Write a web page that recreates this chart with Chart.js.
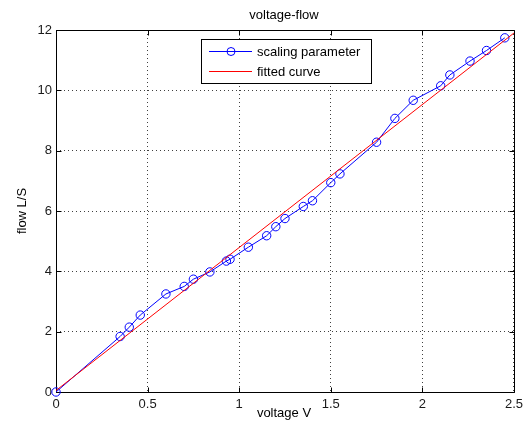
<!DOCTYPE html>
<html>
<head>
<meta charset="utf-8">
<script src="https://cdn.jsdelivr.net/npm/chart.js@4/dist/chart.umd.min.js"></script>
<style>
html,body{margin:0;padding:0;background:#fff;}
#wrap{width:528px;height:430px;}
</style>
</head>
<body>
<div id="wrap"><canvas id="c" width="528" height="430"></canvas></div>
<script>
const titleText = 'voltage-flow';
const xLabel = 'voltage V';
const yLabel = 'flow L/S';
const seriesNames = ['scaling parameter', 'fitted curve'];

const voltage = [0, 0.35, 0.4, 0.46, 0.6, 0.7, 0.75, 0.84, 0.93, 0.95, 1.05, 1.15, 1.2, 1.25, 1.35, 1.4, 1.5, 1.55, 1.75, 1.85, 1.95, 2.1, 2.15, 2.26, 2.35, 2.45];
const flow = [0, 1.84, 2.15, 2.55, 3.25, 3.5, 3.74, 3.98, 4.34, 4.4, 4.8, 5.18, 5.48, 5.75, 6.15, 6.34, 6.94, 7.23, 8.28, 9.07, 9.67, 10.15, 10.51, 10.97, 11.32, 11.74];

const fitVoltage = [0, 2.5];
const fitFlow = [0.05, 11.9];

const xTicks = [0, 0.5, 1, 1.5, 2, 2.5];
const xTickLabels = ['0', '0.5', '1', '1.5', '2', '2.5'];
const yTicks = [0, 2, 4, 6, 8, 10, 12];
const yTickLabels = ['0', '2', '4', '6', '8', '10', '12'];

const FONT = 'Arial, "Liberation Sans", Helvetica, sans-serif';
const BLUE = '#0000ff';
const RED = '#ff0000';

const toPts = (xs, ys) => xs.map((x, i) => ({x: x, y: ys[i]}));

const framePlugin = {
  id: 'frame',
  beforeDatasetsDraw(chart) {
    const ctx = chart.ctx;
    const a = chart.chartArea;
    const xs = chart.scales.x, ys = chart.scales.y;
    ctx.save();
    ctx.strokeStyle = '#000';
    ctx.lineWidth = 1;
    ctx.beginPath();
    const L = Math.round(a.left) + 0.5, R = Math.round(a.right) + 0.5;
    const T = Math.round(a.top) + 0.5, B = Math.round(a.bottom) + 0.5;
    ctx.rect(L, T, R - L, B - T);
    const tl = 5;
    xTicks.forEach(v => {
      const p = Math.round(xs.getPixelForValue(v)) + 0.5;
      ctx.moveTo(p, B); ctx.lineTo(p, B - tl);
      ctx.moveTo(p, T); ctx.lineTo(p, T + tl);
    });
    yTicks.forEach(v => {
      const p = Math.round(ys.getPixelForValue(v)) + 0.5;
      ctx.moveTo(L, p); ctx.lineTo(L + tl, p);
      ctx.moveTo(R, p); ctx.lineTo(R - tl, p);
    });
    ctx.stroke();
    ctx.restore();
  },
  afterDraw(chart) {
    const ctx = chart.ctx;
    const a = chart.chartArea;
    const cx = (a.left + a.right) / 2 - 1;
    ctx.save();
    ctx.fillStyle = '#000';
    ctx.font = '13px ' + FONT;
    ctx.textAlign = 'center';
    ctx.textBaseline = 'alphabetic';
    ctx.fillText(titleText, cx, 19);
    ctx.fillText(xLabel, cx, 417);
    ctx.save();
    ctx.translate(26, (a.top + a.bottom) / 2);
    ctx.rotate(-Math.PI / 2);
    ctx.fillText(yLabel, 0, 0);
    ctx.restore();

    // legend
    const lx = 201, ly = 39, lw = 170, lh = 44;
    ctx.fillStyle = '#fff';
    ctx.fillRect(lx, ly, lw, lh);
    ctx.strokeStyle = '#000';
    ctx.lineWidth = 1;
    ctx.strokeRect(lx + 0.5, ly + 0.5, lw, lh);
    const rows = [51, 71];
    ctx.lineWidth = 1;
    ctx.strokeStyle = BLUE;
    ctx.beginPath();
    ctx.moveTo(209, rows[0] + 0.5); ctx.lineTo(252, rows[0] + 0.5);
    ctx.stroke();
    ctx.beginPath();
    ctx.arc(231, rows[0] + 0.5, 4, 0, Math.PI * 2);
    ctx.stroke();
    ctx.strokeStyle = RED;
    ctx.beginPath();
    ctx.moveTo(209, rows[1] + 0.5); ctx.lineTo(252, rows[1] + 0.5);
    ctx.stroke();
    ctx.fillStyle = '#000';
    ctx.textAlign = 'left';
    ctx.textBaseline = 'middle';
    ctx.font = '13px ' + FONT;
    ctx.fillText(seriesNames[0], 257, rows[0] + 1);
    ctx.fillText(seriesNames[1], 257, rows[1] + 1);
    ctx.restore();
  }
};

new Chart(document.getElementById('c'), {
  type: 'scatter',
  data: {
    datasets: [
      {
        label: seriesNames[0],
        data: toPts(voltage, flow),
        showLine: true,
        borderColor: BLUE,
        backgroundColor: 'rgba(0,0,0,0)',
        borderWidth: 1,
        pointRadius: 4.2,
        pointHoverRadius: 4.2,
        pointBorderColor: BLUE,
        pointBorderWidth: 1,
        pointBackgroundColor: 'rgba(0,0,0,0)',
        clip: false,
        order: 1
      },
      {
        label: seriesNames[1],
        data: toPts(fitVoltage, fitFlow),
        showLine: true,
        borderColor: RED,
        backgroundColor: RED,
        borderWidth: 1,
        pointRadius: 0,
        pointHoverRadius: 0,
        order: 0
      }
    ]
  },
  options: {
    responsive: false,
    animation: false,
    devicePixelRatio: 1,
    layout: {padding: {left: 0, right: 12, top: 30, bottom: 0}},
    plugins: {legend: {display: false}, title: {display: false}, tooltip: {enabled: false}},
    events: [],
    scales: {
      x: {
        type: 'linear',
        min: 0, max: 2.5,
        afterBuildTicks: s => { s.ticks = xTicks.map(v => ({value: v})); },
        afterFit: s => { s.height = 38; },
        ticks: {
          callback: (v, i) => xTickLabels[i],
          color: '#1a1a1a',
          font: {family: FONT, size: 13},
          padding: 5,
          maxRotation: 0,
          autoSkip: false
        },
        grid: {color: 'rgba(0,0,0,0.75)', lineWidth: 1, drawTicks: false, tickBorderDash: [1, 3]},
        border: {display: false, dash: [1, 3]}
      },
      y: {
        type: 'linear',
        min: 0, max: 12,
        afterBuildTicks: s => { s.ticks = yTicks.map(v => ({value: v})); },
        afterFit: s => { s.width = 56; },
        ticks: {
          callback: (v, i) => yTickLabels[i],
          color: '#1a1a1a',
          font: {family: FONT, size: 13},
          padding: 4,
          autoSkip: false
        },
        grid: {color: 'rgba(0,0,0,0.75)', lineWidth: 1, drawTicks: false},
        border: {display: false, dash: [1, 3]}
      }
    }
  },
  plugins: [framePlugin]
});
</script>
</body>
</html>
